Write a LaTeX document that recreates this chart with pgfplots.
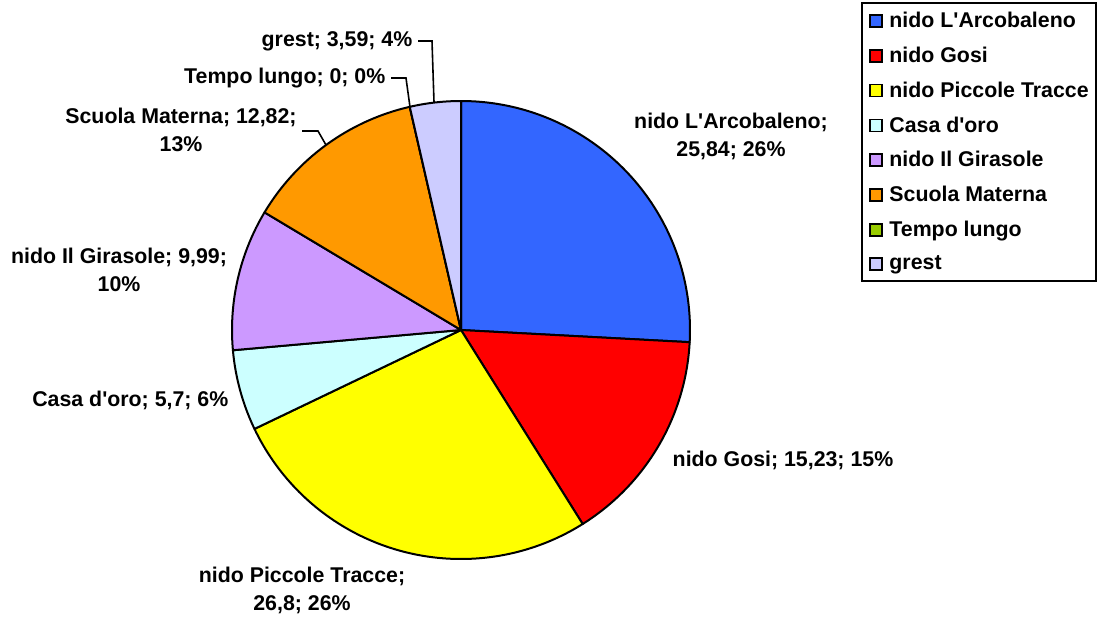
\documentclass[border=0pt]{standalone}
\usepackage{fontspec}
\setmainfont{Liberation Sans}
\usepackage{pgfplots}
\usepackage{pgfplotstable}
\pgfplotsset{compat=1.18}

\definecolor{c0}{HTML}{3366FF}
\definecolor{c1}{HTML}{FF0000}
\definecolor{c2}{HTML}{FFFF00}
\definecolor{c3}{HTML}{CCFFFF}
\definecolor{c4}{HTML}{CC99FF}
\definecolor{c5}{HTML}{FF9900}
\definecolor{c6}{HTML}{99CC00}
\definecolor{c7}{HTML}{CCCCFF}

\pgfplotstableread{
id value
0 25.84
1 15.23
2 26.8
3 5.7
4 9.99
5 12.82
6 0
7 3.59
}\piedata

\newcommand\lblfont{\fontsize{16}{21}\selectfont\bfseries}
\newcommand\q{\textquotesingle}

\begin{document}
\begin{tikzpicture}
% total and cumulative angles (clockwise from the top)
\gdef\pieTotal{0}
\pgfplotstableforeachcolumnelement{value}\of\piedata\as\v{%
  \pgfmathsetmacro\tmpsum{\pieTotal+\v}\xdef\pieTotal{\tmpsum}}
\gdef\pieCum{0}
\pgfplotstableforeachcolumnelement{value}\of\piedata\as\v{%
  \pgfmathsetmacro\sa{90-360*(\pieCum/\pieTotal)}%
  \pgfmathsetmacro\newc{\pieCum+\v}%
  \pgfmathsetmacro\ea{90-360*(\newc/\pieTotal)}%
  \expandafter\xdef\csname sa\pgfplotstablerow\endcsname{\sa}%
  \expandafter\xdef\csname ea\pgfplotstablerow\endcsname{\ea}%
  \xdef\pieCum{\newc}%
}
\def\pieR{171.75pt}

\begin{axis}[
    x=0.75pt, y=0.75pt,
    scale only axis,
    xmin=0, xmax=1101,
    ymin=0, ymax=619,
    y dir=reverse,
    hide axis,
    clip=false,
    legend image code/.code={\draw[#1, line width=1.1pt] (0pt,-4.5pt) rectangle (9pt,4.5pt);},
    legend style={
        at={(axis description cs:0.782,0.9968)}, anchor=north west,
        draw=black, line width=1.5pt,
        font=\lblfont,
        row sep=13pt,
        inner xsep=5.5pt, inner ysep=7pt,
        nodes={inner sep=0pt},
        /tikz/every odd column/.append style={column sep=5pt},
    },
    legend cell align=left,
]
\path (axis cs:0,0) rectangle (axis cs:1101,619);

\pgfplotsinvokeforeach{0,...,7}{
  \filldraw[fill=c#1, draw=black, line width=1.5pt, line join=round]
    (axis cs:461,330) -- ++(\csname sa#1\endcsname:\pieR)
    arc[start angle=\csname sa#1\endcsname, end angle=\csname ea#1\endcsname, radius=\pieR]
    -- cycle;
}

\addlegendimage{fill=c0, draw=black}\addlegendentry{nido L\q Arcobaleno}
\addlegendimage{fill=c1, draw=black}\addlegendentry{nido Gosi}
\addlegendimage{fill=c2, draw=black}\addlegendentry{nido Piccole Tracce}
\addlegendimage{fill=c3, draw=black}\addlegendentry{Casa d\q oro}
\addlegendimage{fill=c4, draw=black}\addlegendentry{nido Il Girasole}
\addlegendimage{fill=c5, draw=black}\addlegendentry{Scuola Materna}
\addlegendimage{fill=c6, draw=black}\addlegendentry{Tempo lungo}
\addlegendimage{fill=c7, draw=black}\addlegendentry{grest}

% data labels
\node[font=\lblfont, align=center] at (axis cs:731,136) {nido L\q Arcobaleno;\\25,84; 26\%};
\node[font=\lblfont, anchor=west] at (axis cs:668,460) {nido Gosi; 15,23; 15\%};
\node[font=\lblfont, align=center] at (axis cs:302,590) {nido Piccole Tracce;\\26,8; 26\%};
\node[font=\lblfont, anchor=east] at (axis cs:233,400) {Casa d\q oro; 5,7; 6\%};
\node[font=\lblfont, align=center] at (axis cs:119,270) {nido Il Girasole; 9,99;\\10\%};
\node[font=\lblfont, align=center] at (axis cs:181,130) {Scuola Materna; 12,82;\\13\%};
\node[font=\lblfont, anchor=east] at (axis cs:390,78) {Tempo lungo; 0; 0\%};
\node[font=\lblfont, anchor=east] at (axis cs:417,41) {grest; 3,59; 4\%};

% leader lines
\draw[line width=1.2pt] (axis cs:418,41) -- (axis cs:432,41) -- (axis cs:434,102);
\draw[line width=1.2pt] (axis cs:391,78) -- (axis cs:406,78) -- (axis cs:410,107);
\draw[line width=1.2pt] (axis cs:302,131) -- (axis cs:318,131) -- (axis cs:326,145);
\end{axis}
\end{tikzpicture}
\end{document}
